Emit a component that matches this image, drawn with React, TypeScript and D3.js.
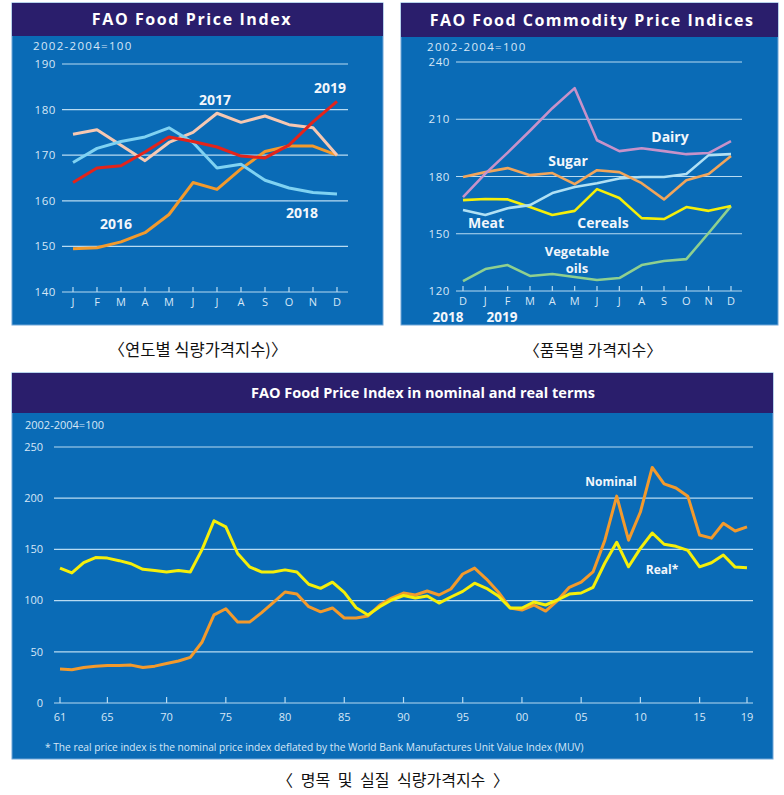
import React from "react";
import * as d3 from "d3";

// ---------- Data ----------
const months = ["J", "F", "M", "A", "M", "J", "J", "A", "S", "O", "N", "D"];
const yTicksYear = [140, 150, 160, 170, 180, 190];
const idx2016 = [149.5, 149.7, 151, 153, 157, 164, 162.5, 167, 170.8, 172, 172, 170];
const idx2017 = [174.6, 175.6, 172.2, 168.8, 172.8, 175, 179.2, 177.2, 178.6, 176.7, 176, 170];
const idx2018 = [168.4, 171.5, 173, 174, 176, 172.8, 167.2, 168, 164.5, 162.8, 161.8, 161.5];
const idx2019 = [164, 167.2, 167.7, 170.7, 174, 173, 171.8, 169.8, 169.4, 172.2, 177.3, 181.8];

const commodityMonths = ["D", "J", "F", "M", "A", "M", "J", "J", "A", "S", "O", "N", "D"];
const yTicksCommodity = [120, 150, 180, 210, 240];
const dairy = [169.2, 181.5, 192.5, 204, 215.8, 226.3, 199, 193.3, 194.8, 193.3, 191.7, 192.3, 198.5];
const sugar = [179.7, 182.3, 184.4, 180.7, 181.8, 176, 183.3, 182.3, 176.5, 168, 178, 181.3, 190.7];
const meat = [162.4, 159.8, 163.4, 165, 171.3, 174.5, 176.5, 179, 179.7, 179.7, 181.3, 191.2, 191.7];
const cereals = [167.6, 168.2, 168, 164, 159.8, 162, 173.4, 168.7, 158.2, 157.7, 164, 162, 164.5];
const vegOils = [125.2, 131.5, 133.6, 127.9, 128.9, 127.3, 125.8, 126.8, 133.6, 135.7, 136.7, 150.4, 164.5];

const years = d3.range(1961, 2020);
const yTicksLong = [0, 50, 100, 150, 200, 250];
const xTickYears = [1961, 1965, 1970, 1975, 1980, 1985, 1990, 1995, 2000, 2005, 2010, 2015, 2019];
const nominal = [33.2, 32.5, 34.6, 36, 36.6, 36.6, 37, 34.6, 36, 38.6, 41, 44.6, 59.6, 86, 92, 79, 79, 88, 98, 108.4,
  106.4, 94, 89, 92.8, 83, 83, 85, 95.7, 102.5, 107.4, 105.5, 109.4, 105.5, 111.3, 126, 131.8, 121, 108.4, 92.8, 90.8,
  95.7, 89.8, 100, 113, 118, 128, 159, 202, 159, 186.5, 230, 214, 210, 202, 164, 161, 175.5, 168, 172];
const real = [131.8, 127, 137, 142, 141.5, 139, 136, 130.5, 129.5, 128, 129.5, 128, 150, 178, 172, 146, 133, 128, 128, 130,
  128, 116, 112, 118, 108, 93, 86, 94, 100.6, 105, 102.5, 104.5, 97.6, 103.5, 109, 117, 112, 104.5, 92.8, 92.8,
  98.6, 95.7, 100.6, 106.4, 107.4, 113, 136.7, 157, 133, 151, 166, 155, 153, 149, 133, 137, 144.5, 132.7, 132];

// ---------- Style ----------
const PANEL = "#0a6bb6";
const NAVY = "#2a1e6c";
const GRID = "#b8dbf2";
const AXT = "#d6e7f6";
const FONT = "'Open Sans', 'Noto Sans', sans-serif";
const KFONT = "'Noto Sans CJK KR', sans-serif";

function Panel({ x, y, w, h, barH, title, titleX, titleSize, spacing }: any) {
  return (
    <g>
      <rect x={x} y={y} width={w} height={h} fill={PANEL} stroke="#6fa6d8" strokeWidth={1} />
      <rect x={x} y={y} width={w} height={barH} fill={NAVY} />
      <text x={titleX} y={y + barH / 2} dy="0.35em" textAnchor="middle" fill="#ffffff"
        fontFamily={FONT} fontWeight={700} fontSize={titleSize} letterSpacing={spacing || 0}>{title}</text>
    </g>
  );
}

export default function App() {
  // Top-left
  const xA = d3.scaleLinear().domain([0, 11]).range([73, 337]);
  const yA = d3.scaleLinear().domain([140, 190]).range([292, 64]);
  const lineA = d3.line<number>().x((_, i) => xA(i)).y((d) => yA(d));

  // Top-right
  const xB = d3.scaleLinear().domain([0, 12]).range([463, 731]);
  const yB = d3.scaleLinear().domain([120, 240]).range([291, 62]);
  const lineB = d3.line<number>().x((_, i) => xB(i)).y((d) => yB(d));

  // Bottom
  const xC = d3.scaleLinear().domain([1961, 2019]).range([60, 747]);
  const yC = d3.scaleLinear().domain([0, 250]).range([703, 447]);
  const lineC = d3.line<number>().x((_, i) => xC(years[i])).y((d) => yC(d));

  const yearSeries = [
    { d: idx2016, c: "#f39a2c" },
    { d: idx2017, c: "#f6c8b2" },
    { d: idx2018, c: "#7fd2f2" },
    { d: idx2019, c: "#e3241b" },
  ];
  const comSeries = [
    { d: vegOils, c: "#8fd08f" },
    { d: cereals, c: "#f5ef0a" },
    { d: meat, c: "#b0e0f4" },
    { d: sugar, c: "#f2a55a" },
    { d: dairy, c: "#c792c9" },
  ];

  const labelStyle: any = { fontFamily: FONT, fontWeight: 700, fill: "#f2f6fb" };

  return (
    <svg width={784} height={795} style={{ position: "absolute", left: 0, top: 0 }}
      xmlns="http://www.w3.org/2000/svg">
      <rect width={784} height={795} fill="#ffffff" />

      {/* ===== Top-left ===== */}
      <Panel x={12} y={3} w={371} h={322} barH={33} title="FAO Food Price Index" titleX={192} titleSize={16} spacing={1.6} />
      <text x={33} y={46} dy="0.35em" fill={AXT} fontFamily={FONT} fontSize={11.5} letterSpacing={1.3}>2002-2004=100</text>
      {yTicksYear.map((t) => (
        <g key={t}>
          <line x1={62} x2={348} y1={yA(t)} y2={yA(t)} stroke={GRID} strokeWidth={1.2} />
          <text x={56} y={yA(t)} dy="0.35em" textAnchor="end" fill={AXT} fontFamily={FONT} fontSize={11.5} letterSpacing={0.6}>{t}</text>
        </g>
      ))}
      {months.map((m, i) => (
        <g key={i}>
          <line x1={xA(i)} x2={xA(i)} y1={287} y2={292} stroke={GRID} strokeWidth={1.2} />
          <text x={xA(i)} y={302} dy="0.35em" textAnchor="middle" fill={AXT} fontFamily={FONT} fontSize={11}>{m}</text>
        </g>
      ))}
      {yearSeries.map((s, i) => (
        <path key={i} d={lineA(s.d) || ""} fill="none" stroke={s.c} strokeWidth={3} strokeLinejoin="round" />
      ))}
      <text x={116} y={224} dy="0.35em" textAnchor="middle" fontSize={14} {...labelStyle}>2016</text>
      <text x={215} y={100} dy="0.35em" textAnchor="middle" fontSize={14} {...labelStyle}>2017</text>
      <text x={302} y={213} dy="0.35em" textAnchor="middle" fontSize={14} {...labelStyle}>2018</text>
      <text x={330} y={88} dy="0.35em" textAnchor="middle" fontSize={14} {...labelStyle}>2019</text>

      {/* ===== Top-right ===== */}
      <Panel x={401} y={3} w={377} h={322} barH={34} title="FAO Food Commodity Price Indices" titleX={592} titleSize={16} spacing={1.5} />
      <text x={427} y={46.5} dy="0.35em" fill={AXT} fontFamily={FONT} fontSize={11.5} letterSpacing={1.3}>2002-2004=100</text>
      {yTicksCommodity.map((t) => (
        <g key={t}>
          <line x1={456} x2={742} y1={yB(t)} y2={yB(t)} stroke={GRID} strokeWidth={1.2} />
          <text x={450} y={yB(t)} dy="0.35em" textAnchor="end" fill={AXT} fontFamily={FONT} fontSize={11.5} letterSpacing={0.6}>{t}</text>
        </g>
      ))}
      {commodityMonths.map((m, i) => (
        <g key={i}>
          <line x1={xB(i)} x2={xB(i)} y1={286} y2={291} stroke={GRID} strokeWidth={1.2} />
          <text x={xB(i)} y={301} dy="0.35em" textAnchor="middle" fill={AXT} fontFamily={FONT} fontSize={11}>{m}</text>
        </g>
      ))}
      <text x={448} y={317.5} dy="0.35em" textAnchor="middle" fontSize={13.5} {...labelStyle}>2018</text>
      <text x={502} y={317.5} dy="0.35em" textAnchor="middle" fontSize={13.5} {...labelStyle}>2019</text>
      {comSeries.map((s, i) => (
        <path key={i} d={lineB(s.d) || ""} fill="none" stroke={s.c} strokeWidth={2.6} strokeLinejoin="round" />
      ))}
      <text x={670} y={137} dy="0.35em" textAnchor="middle" fontSize={14} {...labelStyle}>Dairy</text>
      <text x={568} y={161} dy="0.35em" textAnchor="middle" fontSize={14} {...labelStyle}>Sugar</text>
      <text x={486} y={223} dy="0.35em" textAnchor="middle" fontSize={14} {...labelStyle}>Meat</text>
      <text x={603} y={223} dy="0.35em" textAnchor="middle" fontSize={14} {...labelStyle}>Cereals</text>
      <text x={577} y={251} dy="0.35em" textAnchor="middle" fontSize={13} {...labelStyle}>Vegetable</text>
      <text x={577} y={268} dy="0.35em" textAnchor="middle" fontSize={13} {...labelStyle}>oils</text>

      {/* ===== Captions ===== */}
      <text x={198} y={350} dy="0.35em" textAnchor="middle" fill="#111" fontFamily={KFONT} fontSize={16.5}>〈연도별 식량가격지수)〉</text>
      <text x={593} y={350} dy="0.35em" textAnchor="middle" fill="#111" fontFamily={KFONT} fontSize={16}>〈품목별 가격지수〉</text>

      {/* ===== Bottom ===== */}
      <Panel x={12} y={373} w={761} h={386} barH={40} title="FAO Food Price Index in nominal and real terms" titleX={423} titleSize={14.5} />
      <text x={25} y={425} dy="0.35em" fill={AXT} fontFamily={FONT} fontSize={11}>2002-2004=100</text>
      {yTicksLong.map((t) => (
        <g key={t}>
          <line x1={54} x2={753} y1={yC(t)} y2={yC(t)} stroke={GRID} strokeWidth={1.2} />
          <text x={43} y={yC(t)} dy="0.35em" textAnchor="end" fill={AXT} fontFamily={FONT} fontSize={11}>{t}</text>
        </g>
      ))}
      {xTickYears.map((yr) => (
        <g key={yr}>
          <line x1={xC(yr)} x2={xC(yr)} y1={697} y2={703} stroke={GRID} strokeWidth={1.2} />
          <text x={xC(yr)} y={717} dy="0.35em" textAnchor="middle" fill={AXT} fontFamily={FONT} fontSize={11}>
            {String(yr % 100).padStart(2, "0")}
          </text>
        </g>
      ))}
      <path d={lineC(nominal) || ""} fill="none" stroke="#f39a2c" strokeWidth={3} strokeLinejoin="round" />
      <path d={lineC(real) || ""} fill="none" stroke="#f5ef0a" strokeWidth={3} strokeLinejoin="round" />
      <text x={611} y={482} dy="0.35em" textAnchor="middle" fontSize={12} {...labelStyle}>Nominal</text>
      <text x={662} y={570} dy="0.35em" textAnchor="middle" fontSize={12} {...labelStyle}>Real*</text>
      <text x={45} y={747} dy="0.35em" fill={AXT} fontFamily={FONT} fontSize={10.2}>
        * The real price index is the nominal price index deflated by the World Bank Manufactures Unit Value Index (MUV)
      </text>

      <text x={393} y={780} dy="0.35em" textAnchor="middle" fill="#111" fontFamily={KFONT} fontSize={16} wordSpacing={4}>〈 명목 및 실질 식량가격지수 〉</text>
    </svg>
  );
}
